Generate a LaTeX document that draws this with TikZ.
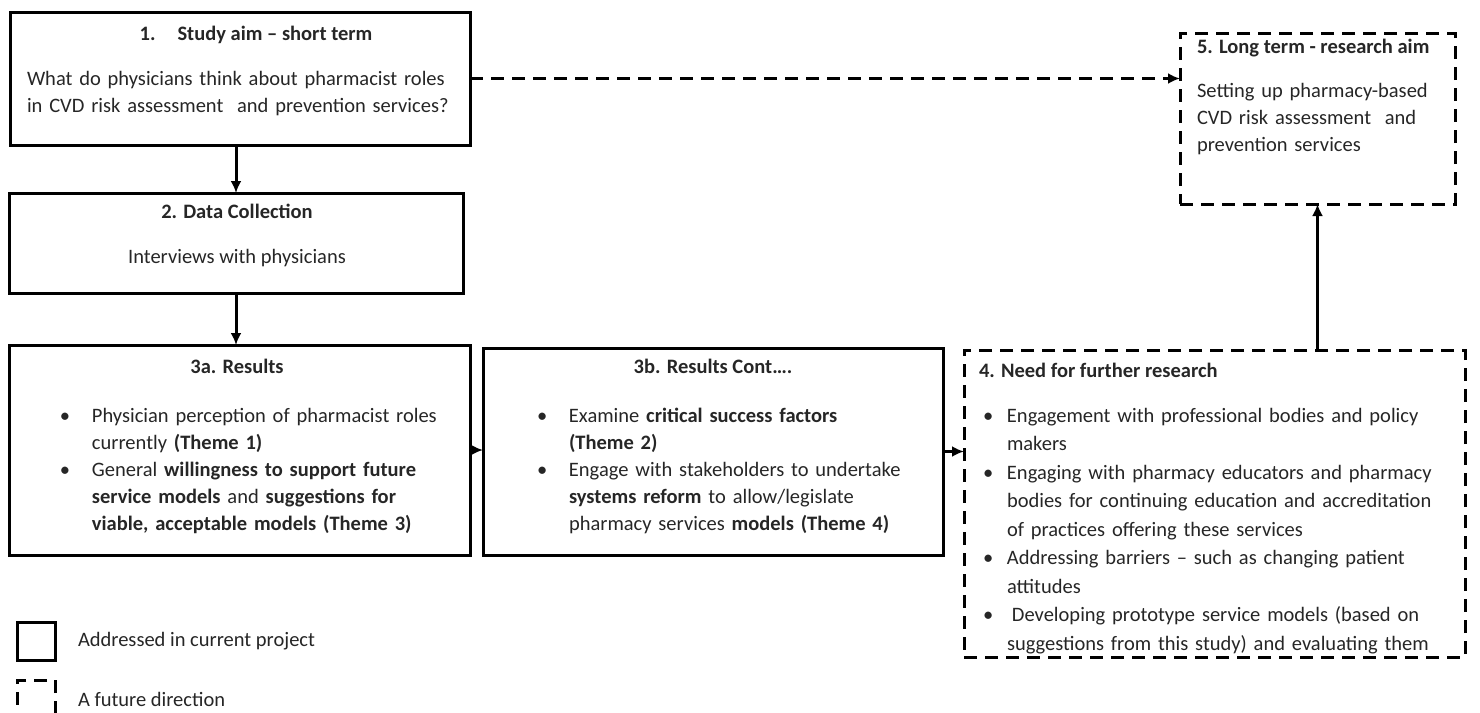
\documentclass[tikz,border=0pt]{standalone}
\usepackage{fontspec}
\setmainfont{Carlito}
\usetikzlibrary{arrows.meta,positioning}

\newcommand{\bul}[2][16pt]{\hangindent=#1\hangafter=1\noindent\makebox[#1][l]{\textbullet}#2\par}

\begin{document}
\begin{tikzpicture}[  x=0.5pt,  y=-0.5pt,  font=\fontsize{10.25}{13.5}\selectfont,  every node/.style={inner sep=0pt, outer sep=0pt, text=black!85},  done/.style={draw=black, line width=1.5pt, anchor=north west},  todo/.style={done, dash pattern=on 6.5pt off 4pt},  head/.style={font=\fontsize{10.25}{13.5}\selectfont\bfseries, anchor=base},  line/.style={anchor=base},  body/.style={anchor=base west, align=left},  link/.style={draw=black, line width=1.5pt, -{Latex[length=6pt,width=5.5pt]}},  ]

  \useasboundingbox (0,0) rectangle (1480,713);

  % boxes
  \node[done, minimum width=230pt, minimum height=66.5pt] (aim) at (10,12) {};
  \node[done, minimum width=227pt, minimum height=50pt] (collect) at (9,193) {};
  \node[done, minimum width=230.5pt, minimum height=105pt] (resA) at (9,345) {};
  \node[done, minimum width=230pt, minimum height=103.5pt] (resB) at (483,348) {};
  \node[todo, minimum width=250.5pt, minimum height=153.5pt] (need) at (964,350) {};
  \node[todo, minimum width=137.5pt, minimum height=85.5pt] (future) at (1180,33) {};

  % texts
  \node[head] (aimhead) at ([shift={(246,28)}]aim.north west) {1.\hspace{11pt}Study aim – short term};
  \node[body, text width=225pt] (aimtext) at ([shift={(17,73)}]aim.north west)
    {What do physicians think about pharmacist roles\newline in CVD risk assessment\ \ and prevention services?};

  \node[head] (collecthead) at ([shift={(228,25)}]collect.north west) {2. Data Collection};
  \node[line] (collecttext) at ([shift={(228,70)}]collect.north west) {Interviews with physicians};

  \node[head] (resAhead) at ([shift={(228,28)}]resA.north west) {3a. Results};
  \node[body, text width=205pt] (resAtext) at ([shift={(51,77)}]resA.north west)
    {\bul{Physician perception of pharmacist roles\newline currently \textbf{(Theme 1)}}
     \bul{General \textbf{willingness to support future}\newline \textbf{service models} and \textbf{suggestions for}\newline \textbf{viable, acceptable models (Theme 3)}}};

  \node[head] (resBhead) at ([shift={(230,25)}]resB.north west) {3b. Results Cont….};
  \node[body, text width=205pt] (resBtext) at ([shift={(54,74)}]resB.north west)
    {\bul{Examine \textbf{critical success factors}\newline \textbf{(Theme 2)}}
     \bul{Engage with stakeholders to undertake\newline \textbf{systems reform} to allow/legislate\newline pharmacy services \textbf{models (Theme 4)}}};

  \node[head, anchor=base west] (needhead) at ([shift={(15,27)}]need.north west) {4. Need for further research};
  \node[body, text width=238pt, font=\fontsize{10.25}{14.25}\selectfont] (needtext) at ([shift={(19,72)}]need.north west)
    {\bul[12pt]{Engagement with professional bodies and policy\newline makers}
     \bul[12pt]{Engaging with pharmacy educators and pharmacy\newline bodies for continuing education and accreditation\newline of practices offering these services}
     \bul[12pt]{Addressing barriers – such as changing patient\newline attitudes}
     \bul[12pt]{\hspace{2.5pt}Developing prototype service models (based on\newline suggestions from this study) and evaluating them}};

  \node[head, anchor=base west] (futurehead) at ([shift={(17,20)}]future.north west) {5. Long term - research aim};
  \node[body, text width=130pt] (futuretext) at ([shift={(17,64)}]future.north west)
    {Setting up pharmacy-based\newline CVD risk assessment\ \ and\newline prevention services};

  % connectors
  \draw[link] (collect.north |- aim.south) -- (collect.north);
  \draw[link] (collect.south) -- (collect.south |- resA.north);
  \draw[link] (resA.east) -- (resA.east -| resB.west);
  \draw[link] (resB.east) -- (resB.east -| need.west);
  \draw[link] (need.north -| future.south) -- (future.south);
  \draw[link, dash pattern=on 6.5pt off 4pt] (aim.east) -- (aim.east -| future.west);

  % key
  \node[done, minimum size=19pt] (keydone) at (17,622) {};
  \node[todo, minimum size=19pt] (keytodo) at (17,680) {};
  \node[right=11.5pt of keydone] (keydonetext) {Addressed in current project};
  \node[right=11.5pt of keytodo] (keytodotext) {A future direction};
\end{tikzpicture}
\end{document}
